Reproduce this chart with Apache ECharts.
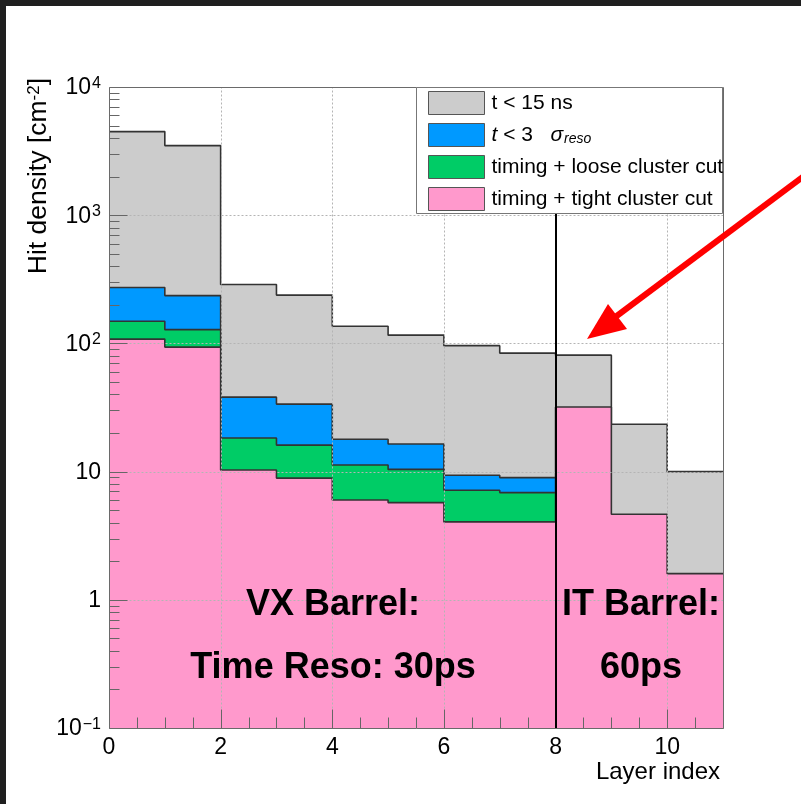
<!DOCTYPE html>
<html>
<head>
<meta charset="utf-8">
<script src="https://cdn.jsdelivr.net/npm/echarts@6/dist/echarts.min.js"></script>
<style>
  html, body { margin: 0; padding: 0; background: #ffffff; }
  #chart { width: 801px; height: 804px; }
</style>
</head>
<body>
<div id="chart"></div>
<script>
// Lower edge of each layer bin (bins are one layer wide)
const layers = [0, 1, 2, 3, 4, 5, 6, 7, 8, 9, 10];

// Hit density per layer [cm^-2]
const hitsT15ns   = [4490, 3490, 288, 238, 136, 116, 96, 84, 81, 23.4, 10.0];
const hitsT3Sigma = [273, 236, 38.1, 33.6, 17.9, 16.4, 9.36, 8.98];
const hitsLoose   = [149, 128, 18.3, 16.1, 11.25, 10.4, 7.15, 6.86];
const hitsTight   = [108, 93.6, 10.3, 8.9, 6.0, 5.73, 4.05, 4.05, 31.9, 4.65, 1.60];

const seriesNames  = ['t < 15 ns', 't < 3 sigma_reso', 'timing + loose cluster cut', 'timing + tight cluster cut'];
const legendLabels = ['t < 15 ns', '{it|t} < 3   {it|σ}{sub|reso}', 'timing + loose cluster cut', 'timing + tight cluster cut'];
const fillColors   = ['#cccccc', '#0099ff', '#00cc66', '#ff99cc'];

// Axis ticks and labels
const xLabelValues = [0, 2, 4, 6, 8, 10];
const yTickValues  = [0.1, 1, 10, 100, 1000, 10000];
const yTickLabels  = ['{b|10}{sup|−1}', '{b|1}', '{b|10}', '{b|10}{sup|2}', '{b|10}{sup|3}', '{b|10}{sup|4}'];

const X_MIN = 0, X_MAX = 11, Y_MIN = 0.1, Y_MAX = 10000;
const DIVIDER_X = 8;
const FONT = '"Liberation Sans", Arial, Helvetica, sans-serif';

// Step outline points: each bin holds its value up to the next edge
function stepData(values) {
  const pts = values.map((v, i) => [layers[i], v]);
  pts.push([layers[values.length - 1] + 1, values[values.length - 1]]);
  return pts;
}

function histSeries(idx, values) {
  return {
    type: 'line',
    name: seriesNames[idx],
    data: stepData(values),
    step: 'end',
    symbol: 'none',
    silent: true,
    z: 2 + idx,
    lineStyle: { color: '#333333', width: 1.6 },
    itemStyle: { color: fillColors[idx] },
    areaStyle: { color: fillColors[idx], opacity: 1, origin: 'start' }
  };
}

// Grid lines, inward ticks, frame and the VX/IT divider, drawn over the fills
function renderFrame(params, api) {
  const children = [];
  const px = v => Math.round(v) + 0.5;
  const P = (x, y) => api.coord([x, y]);
  const seg = (a, b, style) => children.push({
    type: 'line',
    shape: { x1: px(a[0]), y1: px(a[1]), x2: px(b[0]), y2: px(b[1]) },
    style: style
  });
  const gridStyle = { stroke: '#b4b4b4', lineWidth: 1, lineDash: [2, 2] };
  const tickStyle = { stroke: '#666666', lineWidth: 1 };

  [2, 4, 6, 8, 10].forEach(x => seg(P(x, Y_MIN), P(x, Y_MAX), gridStyle));
  [1, 10, 100, 1000].forEach(y => seg(P(X_MIN, y), P(X_MAX, y), gridStyle));

  // y ticks: decades plus 2..9 sub-ticks
  for (let d = -1; d <= 4; d++) {
    const base = Math.pow(10, d);
    const p = P(X_MIN, base);
    seg(p, [p[0] + 18, p[1]], tickStyle);
    if (d < 4) {
      for (let k = 2; k <= 9; k++) {
        const q = P(X_MIN, k * base);
        seg(q, [q[0] + 10, q[1]], tickStyle);
      }
    }
  }
  // x ticks: every 0.5, long ones at even layers
  for (let i = 0; i <= 22; i++) {
    const x = i * 0.5;
    const p = P(x, Y_MIN);
    const len = (i % 4 === 0) ? 19 : 11;
    seg(p, [p[0], p[1] - len], tickStyle);
  }

  const tl = P(X_MIN, Y_MAX), br = P(X_MAX, Y_MIN);
  children.push({
    type: 'rect',
    shape: { x: px(tl[0]), y: px(tl[1]), width: Math.round(br[0] - tl[0]), height: Math.round(br[1] - tl[1]) },
    style: { fill: 'none', stroke: '#6a6a6a', lineWidth: 1 }
  });

  const a = P(DIVIDER_X, Y_MIN), b = P(DIVIDER_X, Y_MAX);
  children.push({
    type: 'line',
    shape: { x1: Math.round(a[0]), y1: a[1], x2: Math.round(b[0]), y2: b[1] },
    style: { stroke: '#000000', lineWidth: 2 }
  });
  return { type: 'group', children: children };
}

const chart = echarts.init(document.getElementById('chart'), null, { renderer: 'canvas' });

chart.setOption({
  animation: false,
  backgroundColor: '#ffffff',
  textStyle: { fontFamily: FONT },
  grid: { left: 109, right: 78, top: 87, bottom: 76, containLabel: false },
  xAxis: {
    type: 'value', min: X_MIN, max: X_MAX, interval: 2,
    axisLine: { show: false }, axisTick: { show: false }, splitLine: { show: false },
    axisLabel: {
      margin: 8, fontSize: 23, color: '#000', fontFamily: FONT,
      showMaxLabel: false,
      formatter: v => (xLabelValues.indexOf(v) >= 0 ? String(v) : '')
    }
  },
  yAxis: {
    type: 'log', logBase: 10, min: Y_MIN, max: Y_MAX,
    axisLine: { show: false }, axisTick: { show: false }, splitLine: { show: false },
    axisLabel: {
      margin: 8, color: '#000', fontFamily: FONT,
      formatter: v => {
        const e = Math.round(Math.log10(v));
        const i = yTickValues.findIndex(t => Math.round(Math.log10(t)) === e);
        return i >= 0 ? yTickLabels[i] : '';
      },
      rich: {
        b: { fontSize: 23, lineHeight: 23, padding: [2, 0, 0, 0], color: '#000', fontFamily: FONT },
        sup: { fontSize: 16, lineHeight: 16, verticalAlign: 'top', color: '#000', fontFamily: FONT, padding: [0, 0, 0, 1] }
      }
    }
  },
  legend: {
    orient: 'vertical', left: 428, top: 91, padding: 0,
    itemWidth: 56, itemHeight: 23, itemGap: 8,
    selectedMode: false, z: 30,
    data: seriesNames.map((n, i) => ({
      name: n, icon: 'rect',
      itemStyle: { color: fillColors[i], borderColor: '#555555', borderWidth: 1 }
    })),
    formatter: name => legendLabels[seriesNames.indexOf(name)],
    textStyle: {
      fontSize: 21, lineHeight: 22, color: '#000', fontFamily: FONT, padding: [0, 0, 0, 2],
      rich: {
        it: { fontSize: 21, lineHeight: 22, fontStyle: 'italic', color: '#000', fontFamily: FONT },
        sub: { fontSize: 14, fontStyle: 'italic', color: '#000', fontFamily: FONT, lineHeight: 14, padding: [8, 0, 0, 1] }
      }
    }
  },
  graphic: [
    { type: 'rect', z: 0, shape: { x: 0, y: 0, width: 801, height: 6 }, style: { fill: '#1f1f1f' } },
    { type: 'rect', z: 0, shape: { x: 0, y: 0, width: 6, height: 804 }, style: { fill: '#1f1f1f' } },
    { type: 'rect', z: 25, shape: { x: 416.5, y: 87.5, width: 306, height: 126 }, style: { fill: '#ffffff', stroke: '#777777', lineWidth: 1 } },
    { type: 'text', z: 22, x: 333, y: 605, style: { text: 'VX Barrel:', font: 'bold 36px ' + FONT, fill: '#000', align: 'center', verticalAlign: 'middle' } },
    { type: 'text', z: 22, x: 333, y: 668, style: { text: 'Time Reso: 30ps', font: 'bold 36px ' + FONT, fill: '#000', align: 'center', verticalAlign: 'middle' } },
    { type: 'text', z: 22, x: 641, y: 605, style: { text: 'IT Barrel:', font: 'bold 36px ' + FONT, fill: '#000', align: 'center', verticalAlign: 'middle' } },
    { type: 'text', z: 22, x: 641, y: 668, style: { text: '60ps', font: 'bold 36px ' + FONT, fill: '#000', align: 'center', verticalAlign: 'middle' } },
    { type: 'text', z: 22, x: 720, y: 772, style: { text: 'Layer index', font: '24px ' + FONT, fill: '#000', align: 'right', verticalAlign: 'middle' } },
    {
      type: 'text', z: 22, x: 39, y: 78, rotation: Math.PI / 2,
      style: {
        text: 'Hit density [cm{sup|-2}]', font: '26.5px ' + FONT, fill: '#000', align: 'right', verticalAlign: 'middle',
        rich: { sup: { fontSize: 17, lineHeight: 17, verticalAlign: 'top', fontFamily: FONT, fill: '#000' } }
      }
    },
    // red pointer towards the first IT layer
    { type: 'line', z: 40, shape: { x1: 808, y1: 173, x2: 614, y2: 318 }, style: { stroke: '#ff0000', lineWidth: 6 } },
    { type: 'polygon', z: 40, shape: { points: [[587, 339], [608, 304], [627, 329]] }, style: { fill: '#ff0000' } }
  ],
  series: [
    histSeries(0, hitsT15ns),
    histSeries(1, hitsT3Sigma),
    histSeries(2, hitsLoose),
    histSeries(3, hitsTight),
    {
      type: 'custom',
      name: 'frame',
      data: [[0, 1]],
      renderItem: renderFrame,
      clip: false,
      silent: true,
      z: 20
    }
  ]
});
</script>
</body>
</html>
